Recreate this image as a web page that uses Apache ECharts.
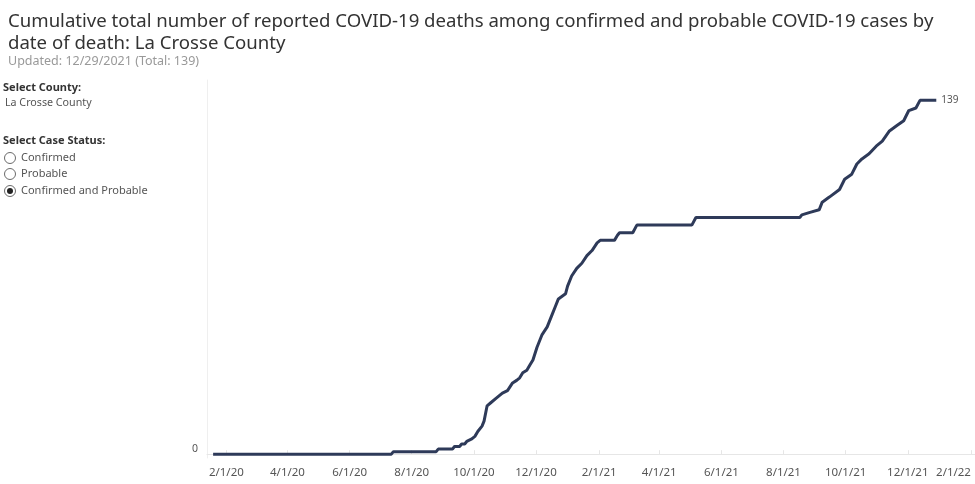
<!DOCTYPE html>
<html>
<head>
<meta charset="utf-8">
<script src="https://cdn.jsdelivr.net/npm/echarts@6/dist/echarts.min.js"></script>
<style>
  html, body { margin: 0; padding: 0; background: #fff; }
  #echarts { width: 975px; height: 484px; }
</style>
</head>
<body>
<div id="echarts"></div>
<script>
// date of death and cumulative total on that date
var deathDates = [
  '2020-01-19', '2020-07-12', '2020-07-14', '2020-08-25', '2020-08-27', '2020-09-10',
  '2020-09-12', '2020-09-17', '2020-09-19', '2020-09-22', '2020-09-24', '2020-09-29',
  '2020-10-02', '2020-10-05', '2020-10-09', '2020-10-11', '2020-10-14', '2020-10-17',
  '2020-10-23', '2020-10-29', '2020-11-03', '2020-11-08', '2020-11-12', '2020-11-15',
  '2020-11-18', '2020-11-22', '2020-11-25', '2020-11-28', '2020-12-02', '2020-12-07',
  '2020-12-12', '2020-12-17', '2020-12-20', '2020-12-23', '2020-12-30', '2021-01-01',
  '2021-01-05', '2021-01-10', '2021-01-15', '2021-01-20', '2021-01-25', '2021-01-30',
  '2021-02-02', '2021-02-16', '2021-02-19', '2021-02-21', '2021-03-06', '2021-03-10',
  '2021-05-03', '2021-05-07', '2021-08-17', '2021-08-19', '2021-08-27', '2021-09-05',
  '2021-09-08', '2021-09-15', '2021-09-25', '2021-09-30', '2021-10-07', '2021-10-12',
  '2021-10-17', '2021-10-24', '2021-10-31', '2021-11-06', '2021-11-13', '2021-11-20',
  '2021-11-27', '2021-12-02', '2021-12-09', '2021-12-13', '2021-12-29'
];
var deathTotals = [
  0, 0, 1, 1, 2, 2,
  3, 3, 4, 4, 5, 6,
  7, 9, 11, 13, 19, 20,
  22, 24, 25, 28, 29, 30,
  32, 33, 35, 37, 42, 47,
  50, 55, 58, 61, 63, 66,
  70, 73, 75, 78, 80, 83,
  84, 84, 86, 87, 87, 90,
  90, 93, 93, 94, 95, 96,
  99, 101, 104, 108, 110, 114,
  116, 118, 121, 123, 127, 129,
  131, 135, 136, 139, 139
];
var xTicks = ['2020-02-01', '2020-04-01', '2020-06-01', '2020-08-01', '2020-10-01', '2020-12-01',
  '2021-02-01', '2021-04-01', '2021-06-01', '2021-08-01', '2021-10-01', '2021-12-01', '2022-02-01'];
var yTicks = [0];

function toTime(s) {
  var p = s.split('-');
  return new Date(+p[0], +p[1] - 1, +p[2]).getTime();
}
function fmtDate(v) {
  var d = new Date(v);
  return (d.getMonth() + 1) + '/' + d.getDate() + '/' + String(d.getFullYear()).slice(2);
}

var chartDom = document.getElementById('echarts');
var myChart = echarts.init(chartDom);
var font = 'Noto Sans';

var data = deathDates.map(function (d, i) { return [toTime(d), deathTotals[i]]; });

function radio(y, label, checked) {
  var items = [{
    type: 'circle',
    shape: { cx: 10, cy: y, r: 5.5 },
    style: { fill: '#fff', stroke: '#6b6b6b', lineWidth: 1 }
  }, {
    type: 'text',
    x: 21, y: y,
    style: { text: label, fill: '#555', font: '11px "' + font + '"', verticalAlign: 'middle' }
  }];
  if (checked) {
    items.push({ type: 'circle', shape: { cx: 10, cy: y, r: 3 }, style: { fill: '#222' } });
  }
  return items;
}

var option = {
  backgroundColor: '#ffffff',
  animation: false,
  title: {
    text: 'Cumulative total number of reported COVID-19 deaths among confirmed and probable COVID-19 cases by\ndate of death: La Crosse County',
    subtext: 'Updated: 12/29/2021 (Total: 139)',
    left: 3,
    top: 6,
    itemGap: 0,
    textStyle: { color: '#333', fontFamily: font, fontSize: 18.6, fontWeight: 'normal', lineHeight: 22 },
    subtextStyle: { color: '#999', fontFamily: font, fontSize: 12.5 }
  },
  graphic: [
    { type: 'text', x: 3, y: 88, style: { text: 'Select County:', fill: '#333', font: 'bold 11px "' + font + '"', verticalAlign: 'middle' } },
    { type: 'text', x: 5, y: 103, style: { text: 'La Crosse County', fill: '#555', font: '10.7px "' + font + '"', verticalAlign: 'middle' } },
    { type: 'text', x: 3, y: 141, style: { text: 'Select Case Status:', fill: '#333', font: 'bold 11px "' + font + '"', verticalAlign: 'middle' } }
  ].concat(radio(158, 'Confirmed', false), radio(174, 'Probable', false), radio(191, 'Confirmed and Probable', true)),
  grid: { left: 207, right: 0, top: 80, bottom: 26, containLabel: false },
  xAxis: {
    type: 'value',
    min: toTime('2020-01-13'),
    max: toTime('2022-02-05'),
    splitLine: { show: false },
    axisLine: { lineStyle: { color: '#e6e6e6' } },
    axisTick: { show: true, inside: true, length: 4, lineStyle: { color: '#e6e6e6' }, customValues: xTicks.map(toTime) },
    axisLabel: {
      customValues: xTicks.map(toTime),
      formatter: fmtDate,
      alignMaxLabel: 'right',
      hideOverlap: false,
      color: '#555',
      fontFamily: font,
      fontSize: 11.5,
      margin: 9
    }
  },
  yAxis: {
    type: 'value',
    min: -1.5,
    max: 147,
    splitLine: { show: false },
    axisLine: { show: true, lineStyle: { color: '#efefef' } },
    axisTick: { show: false },
    axisLabel: {
      customValues: yTicks,
      color: '#555',
      fontFamily: font,
      fontSize: 10.5,
      margin: 9,
      verticalAlign: 'bottom',
      lineHeight: 10
    }
  },
  series: [{
    type: 'line',
    data: data,
    showSymbol: false,
    lineStyle: { color: '#2e3a59', width: 3 },
    endLabel: {
      show: true,
      formatter: function (p) { return p.value[1]; },
      color: '#555',
      fontFamily: font,
      fontSize: 10,
      distance: 5
    }
  }]
};
myChart.setOption(option);
</script>
</body>
</html>
